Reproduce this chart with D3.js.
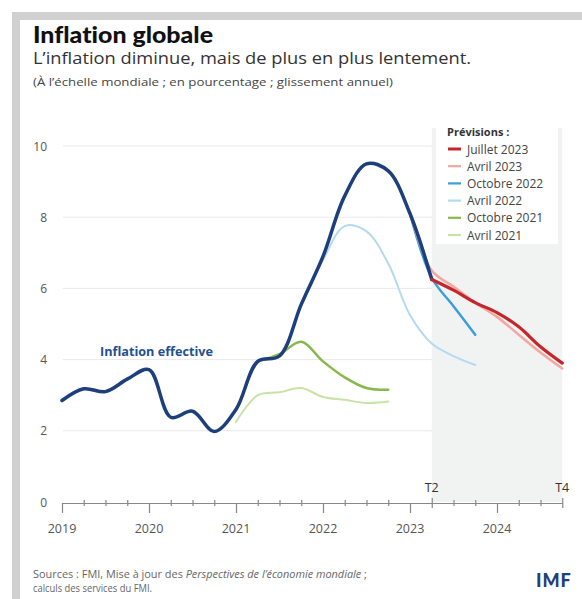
<!DOCTYPE html>
<html>
<head>
<meta charset="utf-8">
<script src="https://cdn.jsdelivr.net/npm/d3@7"></script>
<style>
  body { margin: 0; background: #fff; }
  svg { display: block; font-family: "Open Sans", Lato, sans-serif; font-variant-ligatures: none; }
</style>
</head>
<body>
<script>
// quarterly points, x = decimal year, y = percent
const actual = [[2019.0,2.85],[2019.25,3.18],[2019.5,3.1],[2019.75,3.45],[2020.0,3.72],[2020.25,2.38],
  [2020.5,2.55],[2020.75,1.98],[2021.0,2.6],[2021.25,3.95],[2021.5,4.1],[2021.75,5.55],[2022.0,6.9],
  [2022.25,8.6],[2022.5,9.5],[2022.75,9.3],[2023.0,8.1],[2023.25,6.25]];
const juillet2023 = [[2023.25,6.25],[2023.5,5.95],[2023.75,5.6],[2024.0,5.32],[2024.25,4.92],[2024.5,4.36],[2024.75,3.9]];
const avril2023 = [[2023.0,8.15],[2023.25,6.5],[2023.5,6.05],[2023.75,5.6],[2024.0,5.2],[2024.25,4.7],[2024.5,4.2],[2024.75,3.75]];
const octobre2022 = [[2023.0,8.1],[2023.25,6.3],[2023.5,5.5],[2023.75,4.7]];
const avril2022 = [[2021.75,5.55],[2022.0,6.8],[2022.25,7.75],[2022.5,7.6],[2022.75,6.7],[2023.0,5.25],[2023.25,4.45],[2023.5,4.1],[2023.75,3.85]];
const octobre2021 = [[2021.25,3.95],[2021.5,4.15],[2021.75,4.5],[2022.0,3.95],[2022.25,3.5],[2022.5,3.2],[2022.75,3.15]];
const avril2021 = [[2021.0,2.25],[2021.25,3.0],[2021.5,3.08],[2021.75,3.2],[2022.0,2.95],[2022.25,2.87],[2022.5,2.78],[2022.75,2.82]];

const yTicks = [0, 2, 4, 6, 8, 10];
const years = [2019, 2020, 2021, 2022, 2023, 2024];
const quarterMarks = [[2023.25, "T2"], [2024.75, "T4"]];

const legendNames = ["Juillet 2023", "Avril 2023", "Octobre 2022", "Avril 2022", "Octobre 2021", "Avril 2021"];
const legendColors = ["#c3272c", "#f2a7a1", "#3b9fd9", "#b3daf0", "#86b84a", "#c9e2a5"];

const width = 582, height = 599;
const svg = d3.select("body").append("svg").attr("width", width).attr("height", height);

// frame
svg.append("rect").attr("x", 12).attr("y", 12).attr("width", width - 12).attr("height", 8).attr("fill", "#d0d0d0");
svg.append("rect").attr("x", 12).attr("y", 12).attr("width", 8).attr("height", height - 12).attr("fill", "#d0d0d0");

// titles
svg.append("text").attr("x", 33).attr("y", 43).attr("font-size", 22).attr("font-weight", 900)
  .attr("font-family", "Lato").attr("fill", "#111")
  .attr("textLength", 180).attr("lengthAdjust", "spacingAndGlyphs").text("Inflation globale");
svg.append("text").attr("x", 33).attr("y", 64).attr("font-size", 17).attr("fill", "#333")
  .attr("textLength", 438).attr("lengthAdjust", "spacingAndGlyphs")
  .text("L’inflation diminue, mais de plus en plus lentement.");
svg.append("text").attr("x", 33).attr("y", 86).attr("font-size", 10).attr("fill", "#444")
  .attr("textLength", 360).attr("lengthAdjust", "spacingAndGlyphs")
  .text("(À l’échelle mondiale ; en pourcentage ; glissement annuel)");

const x = d3.scaleLinear().domain([2019, 2024.75]).range([62, 562.25]);
const y = d3.scaleLinear().domain([0, 10]).range([502, 146]);

// gridlines
svg.append("g").selectAll("line").data(yTicks.filter(d => d > 0)).join("line")
  .attr("x1", 63).attr("x2", 558)
  .attr("y1", d => y(d)).attr("y2", d => y(d))
  .attr("stroke", "#e9e9e9").attr("stroke-width", 1);

// forecast shading
svg.append("rect")
  .attr("x", x(2023.25)).attr("y", 128)
  .attr("width", x(2024.75) - x(2023.25)).attr("height", y(0) - 128)
  .attr("fill", "#f1f2f2");

// y labels
svg.append("g").selectAll("text").data(yTicks).join("text")
  .attr("x", 47).attr("y", d => y(d) + 4.5)
  .attr("text-anchor", "end").attr("font-size", 12).attr("fill", "#555")
  .text(d => d);

// x axis
const xAxis = d3.axisBottom(x)
  .tickValues(d3.range(2019, 2024.76, 0.25))
  .tickSize(0).tickFormat("");
const gx = svg.append("g").attr("transform", `translate(0,${y(0) + 1})`).call(xAxis);
gx.select(".domain").attr("stroke", "#888").attr("stroke-width", 1.2);
gx.selectAll(".tick line")
  .attr("y1", d => Number.isInteger(d) ? 0 : -3)
  .attr("y2", d => Number.isInteger(d) ? 10 : 3)
  .attr("stroke", "#888").attr("stroke-width", 1.2);
gx.selectAll(".tick").filter(d => quarterMarks.some(q => Math.abs(q[0] - d) < 1e-6)).select("line")
  .attr("y1", -5).attr("y2", 5);

svg.append("g").selectAll("text").data(years).join("text")
  .attr("x", d => x(d)).attr("y", 533)
  .attr("text-anchor", "middle").attr("font-size", 12.5).attr("fill", "#555")
  .text(d => d);

svg.append("g").selectAll("text").data(quarterMarks).join("text")
  .attr("x", d => x(d[0])).attr("y", 492)
  .attr("text-anchor", "middle").attr("font-size", 12.5).attr("fill", "#333")
  .text(d => d[1]);

// lines
const line = d3.line().x(d => x(d[0])).y(d => y(d[1])).curve(d3.curveCatmullRom.alpha(0.5));
const series = [
  [avril2021, legendColors[5], 2],
  [octobre2021, legendColors[4], 2.5],
  [avril2022, legendColors[3], 2],
  [octobre2022, legendColors[2], 2.5],
  [avril2023, legendColors[1], 2.5],
  [actual, "#1d3f7c", 3.5],
  [juillet2023, legendColors[0], 3.2]
];
svg.append("g").selectAll("path").data(series).join("path")
  .attr("d", d => line(d[0]))
  .attr("fill", "none")
  .attr("stroke", d => d[1])
  .attr("stroke-width", d => d[2])
  .attr("stroke-linejoin", "round").attr("stroke-linecap", "round");

svg.append("text").attr("x", 100).attr("y", 356).attr("font-size", 12.5).attr("font-weight", 700)
  .attr("fill", "#24508f").attr("textLength", 113).attr("lengthAdjust", "spacingAndGlyphs")
  .text("Inflation effective");

// legend
svg.append("rect").attr("x", 436).attr("y", 122).attr("width", 122).attr("height", 122).attr("fill", "#fff");
svg.append("text").attr("x", 447).attr("y", 136).attr("font-size", 11).attr("font-weight", 700)
  .attr("fill", "#333").text("Prévisions :");
const leg = svg.append("g").selectAll("g").data(legendNames).join("g")
  .attr("transform", (d, i) => `translate(448,${149 + i * 17.2})`);
leg.append("line").attr("x1", 0).attr("x2", 13)
  .attr("stroke", (d, i) => legendColors[i]).attr("stroke-width", (d, i) => i === 0 ? 3 : 2.2);
leg.append("text").attr("x", 19).attr("y", 4.5).attr("font-size", 12).attr("fill", "#444").text(d => d);

// sources
svg.append("text").attr("x", 33).attr("y", 578).attr("font-size", 10).attr("fill", "#666")
  .attr("textLength", 334).attr("lengthAdjust", "spacingAndGlyphs")
  .html("Sources : FMI, Mise à jour des <tspan font-style='italic'>Perspectives de l’économie mondiale</tspan> ;");
svg.append("text").attr("x", 33).attr("y", 592).attr("font-size", 10).attr("fill", "#666")
  .attr("textLength", 119).attr("lengthAdjust", "spacingAndGlyphs").text("calculs des services du FMI.");
svg.append("text").attr("x", 536).attr("y", 587).attr("font-size", 18).attr("font-weight", 900)
  .attr("font-family", "Lato").attr("fill", "#1d3f7c").attr("letter-spacing", 1).text("IMF");
</script>
</body>
</html>
